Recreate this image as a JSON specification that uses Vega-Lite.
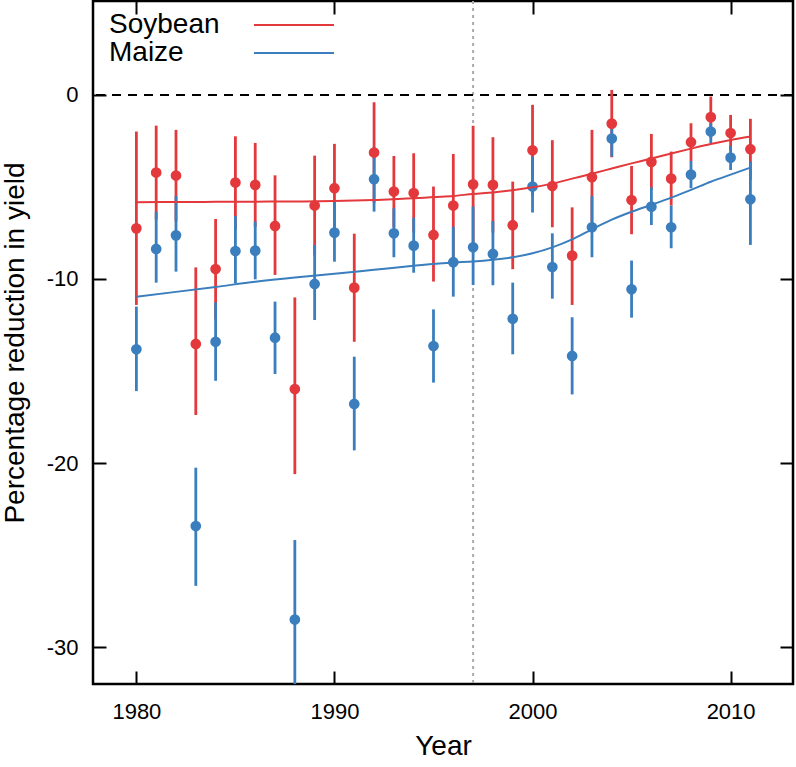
{
  "$schema": "https://vega.github.io/schema/vega-lite/v6.json",
  "width": 700,
  "height": 683,
  "autosize": {"type": "none"},
  "padding": {"left": 93, "top": 1, "right": 3, "bottom": 83},
  "config": {
    "view": {"stroke": "black", "strokeWidth": 2.5},
    "font": "Liberation Sans",
    "axis": {"grid": false, "domain": false, "tickColor": "black", "tickWidth": 2, "tickSize": -13, "labelFontSize": 22, "labelColor": "black", "titleFontSize": 28, "titleFontWeight": "normal", "titleColor": "black", "labelExpr": "replace(datum.label, '\u2212', '-')"},
    "legend": {"orient": "none", "legendX": 18, "legendY": 10, "title": null, "symbolType": "M-4,0H4", "symbolSize": 400, "symbolStrokeWidth": 2, "labelFontSize": 28, "labelFont": "Liberation Sans", "labelColor": "black", "symbolOffset": 169, "labelOffset": -199, "rowPadding": -1, "padding": 0}
  },
  "datasets": {
    "obs": [
      {"year": 1980, "crop": "Soybean", "mean": -7.25, "lo": -11.41, "hi": -1.99},
      {"year": 1981, "crop": "Soybean", "mean": -4.22, "lo": -6.77, "hi": -1.67},
      {"year": 1982, "crop": "Soybean", "mean": -4.38, "lo": -6.87, "hi": -1.90},
      {"year": 1983, "crop": "Soybean", "mean": -13.53, "lo": -17.39, "hi": -9.37},
      {"year": 1984, "crop": "Soybean", "mean": -9.46, "lo": -12.2, "hi": -6.74},
      {"year": 1985, "crop": "Soybean", "mean": -4.76, "lo": -7.28, "hi": -2.25},
      {"year": 1986, "crop": "Soybean", "mean": -4.89, "lo": -7.17, "hi": -2.61},
      {"year": 1987, "crop": "Soybean", "mean": -7.12, "lo": -9.78, "hi": -4.37},
      {"year": 1988, "crop": "Soybean", "mean": -15.98, "lo": -20.6, "hi": -11.0},
      {"year": 1989, "crop": "Soybean", "mean": -6.01, "lo": -8.73, "hi": -3.30},
      {"year": 1990, "crop": "Soybean", "mean": -5.07, "lo": -7.48, "hi": -2.66},
      {"year": 1991, "crop": "Soybean", "mean": -10.47, "lo": -13.41, "hi": -7.54},
      {"year": 1992, "crop": "Soybean", "mean": -3.13, "lo": -5.87, "hi": -0.40},
      {"year": 1993, "crop": "Soybean", "mean": -5.25, "lo": -7.19, "hi": -3.32},
      {"year": 1994, "crop": "Soybean", "mean": -5.33, "lo": -7.48, "hi": -3.17},
      {"year": 1995, "crop": "Soybean", "mean": -7.61, "lo": -10.14, "hi": -4.98},
      {"year": 1996, "crop": "Soybean", "mean": -6.01, "lo": -8.82, "hi": -3.21},
      {"year": 1997, "crop": "Soybean", "mean": -4.86, "lo": -8.03, "hi": -1.68},
      {"year": 1998, "crop": "Soybean", "mean": -4.89, "lo": -7.48, "hi": -2.30},
      {"year": 1999, "crop": "Soybean", "mean": -7.08, "lo": -9.47, "hi": -4.71},
      {"year": 2000, "crop": "Soybean", "mean": -3.01, "lo": -5.47, "hi": -0.54},
      {"year": 2001, "crop": "Soybean", "mean": -4.95, "lo": -7.19, "hi": -2.46},
      {"year": 2002, "crop": "Soybean", "mean": -8.73, "lo": -11.41, "hi": -6.11},
      {"year": 2003, "crop": "Soybean", "mean": -4.47, "lo": -7.05, "hi": -1.90},
      {"year": 2004, "crop": "Soybean", "mean": -1.56, "lo": -3.39, "hi": 0.27},
      {"year": 2005, "crop": "Soybean", "mean": -5.71, "lo": -7.57, "hi": -3.86},
      {"year": 2006, "crop": "Soybean", "mean": -3.64, "lo": -5.16, "hi": -2.12},
      {"year": 2007, "crop": "Soybean", "mean": -4.55, "lo": -6.01, "hi": -3.08},
      {"year": 2008, "crop": "Soybean", "mean": -2.57, "lo": -3.59, "hi": -1.54},
      {"year": 2009, "crop": "Soybean", "mean": -1.21, "lo": -2.34, "hi": -0.09},
      {"year": 2010, "crop": "Soybean", "mean": -2.07, "lo": -3.04, "hi": -1.09},
      {"year": 2011, "crop": "Soybean", "mean": -2.95, "lo": -4.60, "hi": -1.30},
      {"year": 1980, "crop": "Maize", "mean": -13.82, "lo": -16.09, "hi": -11.50},
      {"year": 1981, "crop": "Maize", "mean": -8.37, "lo": -10.20, "hi": -6.34},
      {"year": 1982, "crop": "Maize", "mean": -7.63, "lo": -9.60, "hi": -5.49},
      {"year": 1983, "crop": "Maize", "mean": -23.42, "lo": -26.67, "hi": -20.25},
      {"year": 1984, "crop": "Maize", "mean": -13.41, "lo": -15.53, "hi": -11.27},
      {"year": 1985, "crop": "Maize", "mean": -8.48, "lo": -10.24, "hi": -6.58},
      {"year": 1986, "crop": "Maize", "mean": -8.46, "lo": -10.02, "hi": -6.88},
      {"year": 1987, "crop": "Maize", "mean": -13.19, "lo": -15.16, "hi": -11.23},
      {"year": 1988, "crop": "Maize", "mean": -28.5, "lo": -32.8, "hi": -24.18},
      {"year": 1989, "crop": "Maize", "mean": -10.27, "lo": -12.23, "hi": -8.15},
      {"year": 1990, "crop": "Maize", "mean": -7.48, "lo": -9.06, "hi": -5.80},
      {"year": 1991, "crop": "Maize", "mean": -16.79, "lo": -19.31, "hi": -14.22},
      {"year": 1992, "crop": "Maize", "mean": -4.58, "lo": -6.34, "hi": -2.84},
      {"year": 1993, "crop": "Maize", "mean": -7.52, "lo": -8.82, "hi": -6.16},
      {"year": 1994, "crop": "Maize", "mean": -8.19, "lo": -9.66, "hi": -6.67},
      {"year": 1995, "crop": "Maize", "mean": -13.64, "lo": -15.63, "hi": -11.65},
      {"year": 1996, "crop": "Maize", "mean": -9.09, "lo": -10.96, "hi": -7.16},
      {"year": 1997, "crop": "Maize", "mean": -8.28, "lo": -10.33, "hi": -6.07},
      {"year": 1998, "crop": "Maize", "mean": -8.64, "lo": -10.34, "hi": -6.85},
      {"year": 1999, "crop": "Maize", "mean": -12.16, "lo": -14.09, "hi": -10.20},
      {"year": 2000, "crop": "Maize", "mean": -4.98, "lo": -6.39, "hi": -3.35},
      {"year": 2001, "crop": "Maize", "mean": -9.35, "lo": -11.07, "hi": -7.52},
      {"year": 2002, "crop": "Maize", "mean": -14.18, "lo": -16.27, "hi": -12.08},
      {"year": 2003, "crop": "Maize", "mean": -7.19, "lo": -8.82, "hi": -5.49},
      {"year": 2004, "crop": "Maize", "mean": -2.37, "lo": -3.35, "hi": -1.81},
      {"year": 2005, "crop": "Maize", "mean": -10.56, "lo": -12.10, "hi": -9.00},
      {"year": 2006, "crop": "Maize", "mean": -6.07, "lo": -7.07, "hi": -5.02},
      {"year": 2007, "crop": "Maize", "mean": -7.19, "lo": -8.33, "hi": -6.01},
      {"year": 2008, "crop": "Maize", "mean": -4.33, "lo": -5.07, "hi": -3.59},
      {"year": 2009, "crop": "Maize", "mean": -1.99, "lo": -2.63, "hi": -1.54},
      {"year": 2010, "crop": "Maize", "mean": -3.41, "lo": -4.08, "hi": -2.77},
      {"year": 2011, "crop": "Maize", "mean": -5.67, "lo": -8.15, "hi": -3.62}
    ],
    "fit": [
      {"year": 1980, "crop": "Soybean", "fit": -5.83},
      {"year": 1982, "crop": "Soybean", "fit": -5.82},
      {"year": 1984, "crop": "Soybean", "fit": -5.81},
      {"year": 1986, "crop": "Soybean", "fit": -5.80},
      {"year": 1988, "crop": "Soybean", "fit": -5.79},
      {"year": 1990, "crop": "Soybean", "fit": -5.77},
      {"year": 1992, "crop": "Soybean", "fit": -5.71},
      {"year": 1994, "crop": "Soybean", "fit": -5.62},
      {"year": 1995, "crop": "Soybean", "fit": -5.55},
      {"year": 1996, "crop": "Soybean", "fit": -5.49},
      {"year": 1997, "crop": "Soybean", "fit": -5.38},
      {"year": 1998, "crop": "Soybean", "fit": -5.30},
      {"year": 1999, "crop": "Soybean", "fit": -5.18},
      {"year": 2000, "crop": "Soybean", "fit": -5.02},
      {"year": 2001, "crop": "Soybean", "fit": -4.82},
      {"year": 2002, "crop": "Soybean", "fit": -4.55},
      {"year": 2003, "crop": "Soybean", "fit": -4.28},
      {"year": 2004, "crop": "Soybean", "fit": -4.00},
      {"year": 2005, "crop": "Soybean", "fit": -3.72},
      {"year": 2006, "crop": "Soybean", "fit": -3.46},
      {"year": 2007, "crop": "Soybean", "fit": -3.18},
      {"year": 2008, "crop": "Soybean", "fit": -2.92},
      {"year": 2009, "crop": "Soybean", "fit": -2.67},
      {"year": 2010, "crop": "Soybean", "fit": -2.45},
      {"year": 2011, "crop": "Soybean", "fit": -2.26},
      {"year": 1980, "crop": "Maize", "fit": -10.96},
      {"year": 1982, "crop": "Maize", "fit": -10.70},
      {"year": 1984, "crop": "Maize", "fit": -10.43},
      {"year": 1986, "crop": "Maize", "fit": -10.15},
      {"year": 1988, "crop": "Maize", "fit": -9.92},
      {"year": 1990, "crop": "Maize", "fit": -9.72},
      {"year": 1992, "crop": "Maize", "fit": -9.50},
      {"year": 1994, "crop": "Maize", "fit": -9.28},
      {"year": 1996, "crop": "Maize", "fit": -9.10},
      {"year": 1997, "crop": "Maize", "fit": -9.05},
      {"year": 1998, "crop": "Maize", "fit": -8.96},
      {"year": 1999, "crop": "Maize", "fit": -8.82},
      {"year": 2000, "crop": "Maize", "fit": -8.60},
      {"year": 2001, "crop": "Maize", "fit": -8.28},
      {"year": 2002, "crop": "Maize", "fit": -7.85},
      {"year": 2003, "crop": "Maize", "fit": -7.30},
      {"year": 2004, "crop": "Maize", "fit": -6.78},
      {"year": 2005, "crop": "Maize", "fit": -6.35},
      {"year": 2006, "crop": "Maize", "fit": -5.97},
      {"year": 2007, "crop": "Maize", "fit": -5.58},
      {"year": 2008, "crop": "Maize", "fit": -5.16},
      {"year": 2009, "crop": "Maize", "fit": -4.72},
      {"year": 2010, "crop": "Maize", "fit": -4.33},
      {"year": 2011, "crop": "Maize", "fit": -3.95}
    ]
  },
  "resolve": {"axis": {"x": "independent", "y": "independent"}},
  "layer": [
    {
      "data": {"values": [{}]},
      "mark": {"type": "rule", "color": "#aaaaaa", "strokeWidth": 2, "strokeDash": [3, 4]},
      "encoding": {"x": {"datum": 1997, "type": "quantitative", "scale": {"domain": [1977.81, 2013.15], "nice": false, "zero": false}, "axis": null}}
    },
    {
      "data": {"values": [{}]},
      "mark": {"type": "rule", "color": "black", "strokeWidth": 2, "strokeDash": [9, 7]},
      "encoding": {"y": {"datum": 0, "type": "quantitative", "scale": {"domain": [-32, 5.1], "nice": false, "zero": false}, "axis": null}}
    },
    {
      "data": {"name": "obs"},
      "mark": {"type": "rule", "strokeWidth": 2.8, "clip": true},
      "encoding": {
        "x": {"field": "year", "type": "quantitative", "axis": {"orient": "bottom", "values": [1980, 1990, 2000, 2010], "format": "d", "title": "Year", "labelPadding": 30, "titlePadding": 10}},
        "y": {"field": "lo", "type": "quantitative", "axis": {"orient": "left", "values": [-30, -20, -10, 0], "title": "Percentage reduction in yield", "labelPadding": 28, "titlePadding": 17}},
        "y2": {"field": "hi"},
        "color": {"field": "crop", "type": "nominal", "scale": {"domain": ["Soybean", "Maize"], "range": ["#e3393c", "#3a7ebd"]}}
      }
    },
    {
      "data": {"name": "obs"},
      "mark": {"type": "point", "filled": true, "opacity": 1, "size": 115, "shape": "circle"},
      "encoding": {
        "x": {"field": "year", "type": "quantitative", "axis": {"orient": "top", "values": [1980, 1990, 2000, 2010], "labels": false, "title": null}},
        "y": {"field": "mean", "type": "quantitative", "axis": {"orient": "right", "values": [-30, -20, -10, 0], "labels": false, "title": null}},
        "color": {"field": "crop", "type": "nominal"}
      }
    },
    {
      "data": {"name": "fit"},
      "mark": {"type": "line", "strokeWidth": 2, "interpolate": "monotone"},
      "encoding": {
        "x": {"field": "year", "type": "quantitative", "axis": null},
        "y": {"field": "fit", "type": "quantitative", "axis": null},
        "color": {"field": "crop", "type": "nominal"}
      }
    }
  ]
}
